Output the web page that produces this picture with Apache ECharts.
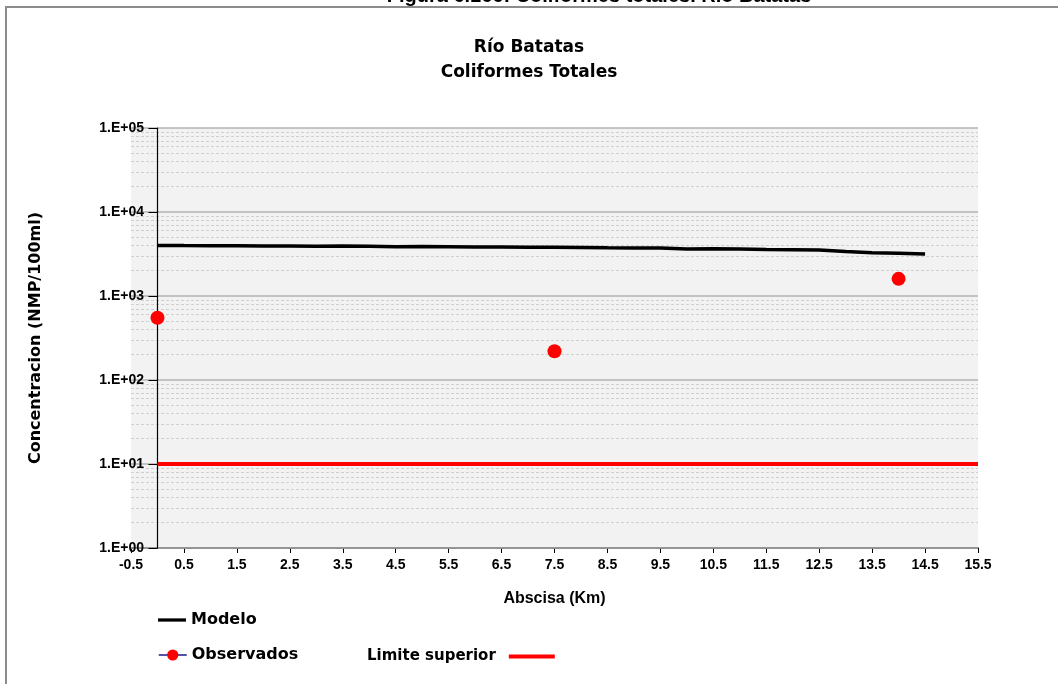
<!DOCTYPE html>
<html>
<head>
<meta charset="utf-8">
<title>Río Batatas - Coliformes Totales</title>
<script src="https://cdn.jsdelivr.net/npm/echarts@6/dist/echarts.min.js"></script>
<style>
  html, body { margin: 0; padding: 0; background: #ffffff; }
  #chart { width: 1058px; height: 684px; }
</style>
</head>
<body>
<div id="chart"></div>
<script>
// Simulated concentration along the river (km, NMP/100ml)
const modelKm = [0, 0.5, 1, 1.5, 2, 2.5, 3, 3.5, 4, 4.5, 5, 5.5, 6, 6.5, 7, 7.5,
                 8, 8.5, 9, 9.5, 10, 10.5, 11, 11.5, 12, 12.5, 13, 13.5, 14, 14.5];
const modelValues = [4000, 3980, 3970, 3960, 3950, 3940, 3920, 3930, 3900, 3870, 3880, 3860,
                     3830, 3820, 3800, 3810, 3780, 3750, 3730, 3720, 3620, 3660, 3630, 3580,
                     3550, 3520, 3380, 3280, 3230, 3170];

// Field samples
const observedKm = [0, 7.5, 14];
const observedValues = [550, 220, 1600];

// Regulatory upper limit
const limitKm = [0, 15.5];
const limitValues = [10, 10];

// Decade labels for the log axis
const yTickLabels = ['1.E+00', '1.E+01', '1.E+02', '1.E+03', '1.E+04', '1.E+05'];

// Minor gridlines at 2..9 within each decade
const minorMultipliers = [2, 3, 4, 5, 6, 7, 8, 9];
const decades = [1, 10, 100, 1000, 10000];

const pairs = (xs, ys) => xs.map((x, i) => [x, ys[i]]);
const minorLines = [];
decades.forEach(d => minorMultipliers.forEach(m => minorLines.push({ yAxis: d * m })));

const titleFont = '"DejaVu Sans", sans-serif';
const axisFont = '"Liberation Sans", Arial, sans-serif';
const legendText = { fontFamily: titleFont, fontWeight: 'bold', fontSize: 16, color: '#000' };

const chart = echarts.init(document.getElementById('chart'));

chart.setOption({
  animation: false,
  backgroundColor: '#ffffff',
  title: {
    text: 'Río Batatas\nColiformes Totales',
    left: 'center',
    top: 30,
    textStyle: {
      fontFamily: titleFont,
      fontWeight: 'bold',
      fontSize: 17,
      lineHeight: 25,
      color: '#000000'
    }
  },
  graphic: [
    {
      type: 'rect',
      silent: true,
      shape: { x: 6, y: 7, width: 1100, height: 800 },
      style: { fill: 'none', stroke: '#8c8c8c', lineWidth: 2 }
    },
    {
      type: 'text',
      silent: true,
      x: 599,
      y: -4,
      style: {
        text: 'Figura 6.166: Coliformes totales. Río Batatas',
        fill: '#000000',
        font: 'bold 20px ' + axisFont,
        align: 'center',
        verticalAlign: 'middle'
      }
    }
  ],
  grid: {
    left: 131,
    right: 80,
    top: 128,
    bottom: 136,
    outerBoundsMode: 'none',
    containLabel: false,
    show: true,
    backgroundColor: '#f2f2f2',
    borderWidth: 0
  },
  legend: [
    {
      data: [{ name: 'Modelo', icon: 'path://M0,0H30V3.5H0Z' }],
      left: 158,
      top: 612,
      padding: 0,
      itemWidth: 28,
      itemHeight: 14,
      selectedMode: false,
      textStyle: legendText
    },
    {
      data: [{
        name: 'Observados',
        itemStyle: { color: '#ff0000' },
        lineStyle: { color: '#1a1a8c', width: 1.5, opacity: 1 }
      }],
      left: 158,
      top: 647,
      padding: 0,
      itemWidth: 28,
      itemHeight: 14,
      selectedMode: false,
      textStyle: legendText
    },
    {
      data: [{ name: 'Limite superior', icon: 'path://M0,0H46V4H0Z' }],
      left: 367,
      top: 649,
      padding: 0,
      align: 'right',
      itemWidth: 46,
      itemHeight: 14,
      selectedMode: false,
      textStyle: Object.assign({}, legendText, { fontSize: 15, padding: [0, 8, 0, 0] })
    }
  ],
  xAxis: {
    type: 'value',
    min: -0.5,
    max: 15.5,
    interval: 1,
    name: 'Abscisa (Km)',
    nameLocation: 'middle',
    nameGap: 43,
    nameTextStyle: { fontFamily: axisFont, fontWeight: 'bold', fontSize: 16, color: '#000' },
    axisLine: { onZero: false, lineStyle: { color: '#000', width: 1.5 } },
    axisTick: { show: true, length: 5, lineStyle: { color: '#000', width: 1 } },
    axisLabel: {
      margin: 10,
      fontFamily: axisFont, fontWeight: 'bold', fontSize: 14, color: '#000',
      formatter: v => v.toFixed(1)
    },
    splitLine: { show: false }
  },
  yAxis: {
    type: 'log',
    logBase: 10,
    min: 1,
    max: 100000,
    z: 10,
    name: 'Concentracion (NMP/100ml)',
    nameLocation: 'middle',
    nameGap: 87,
    nameTextStyle: { fontFamily: titleFont, fontWeight: 'bold', fontSize: 16, color: '#000' },
    axisLine: { show: true, onZero: true, lineStyle: { color: '#000', width: 1.2, type: 'solid' } },
    axisTick: { show: true, length: 9, lineStyle: { color: '#000', width: 1 } },
    axisLabel: {
      margin: -13,
      fontFamily: axisFont, fontWeight: 'bold', fontSize: 14, color: '#000',
      formatter: v => yTickLabels[Math.round(Math.log10(v))]
    },
    splitLine: { show: true, lineStyle: { color: '#b3b3b3', width: 1.5 } }
  },
  series: [
    {
      name: 'Limite superior',
      type: 'line',
      data: pairs(limitKm, limitValues),
      symbol: 'none',
      z: 11,
      lineStyle: { color: '#ff0000', width: 4 },
      itemStyle: { color: '#ff0000' },
      markLine: {
        silent: true,
        z: 1,
        symbol: 'none',
        label: { show: false },
        lineStyle: { color: '#cfcfcf', width: 1, type: [3, 2] },
        emphasis: { disabled: true },
        data: minorLines
      }
    },
    {
      name: 'Modelo',
      type: 'line',
      data: pairs(modelKm, modelValues),
      symbol: 'none',
      z: 12,
      lineStyle: { color: '#000000', width: 3.5 },
      itemStyle: { color: '#000000' }
    },
    {
      name: 'Observados',
      type: 'line',
      data: pairs(observedKm, observedValues),
      symbol: 'circle',
      symbolSize: 14,
      z: 13,
      lineStyle: { opacity: 0 },
      itemStyle: { color: '#ff0000' }
    }
  ]
});
</script>
</body>
</html>
